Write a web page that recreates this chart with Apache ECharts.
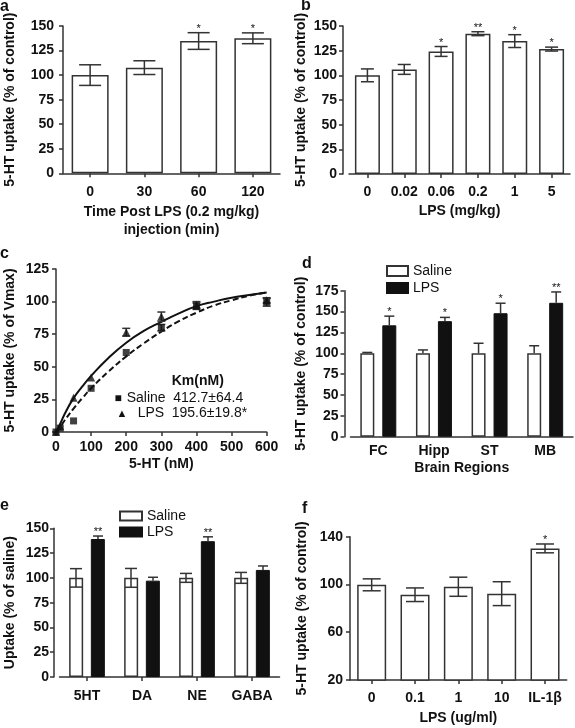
<!DOCTYPE html>
<html><head><meta charset="utf-8">
<script src="https://cdn.jsdelivr.net/npm/echarts@6/dist/echarts.min.js"></script>
<style>html,body{margin:0;padding:0;background:#fff}#c{width:575px;height:728px}</style>
</head><body><div id="c"></div>
<script>
// ---- Panel a ----
const aCats = ['0', '30', '60', '120'];
const aVals = [100, 107.6, 134.7, 137.5];
const aErr = [10.5, 7, 8.5, 5.5];
const aSig = ['', '', '*', '*'];
// ---- Panel b ----
const bCats = ['0', '0.02', '0.06', '0.2', '1', '5'];
const bVals = [100, 106, 124.2, 142.2, 134.7, 126.6];
const bErr = [6.5, 5, 5, 2, 6.5, 2];
const bSig = ['', '', '*', '**', '*', '*'];
// ---- Panel c ----
const cX = [0, 12, 50, 100, 200, 300, 400, 600];
const cSaline = [0, 3, 8.5, 33.5, 61, 80, 96.5, 99.5];
const cSalineErr = [0, 0, 0, 0, 0, 2.5, 2.5, 3];
const cLps = [0, 4.5, 26.3, 41.7, 76.5, 88.5, 97.5, 101];
const cLpsErr = [0, 0, 0, 0, 3, 3.5, 2.5, 2];
const cFitX = [0, 10, 25, 50, 75, 100, 150, 200, 250, 300, 350, 400, 450, 500, 550, 600];
const cFitLps = [0, 5, 14, 26, 35, 43, 57, 68.5, 77.5, 84.5, 91, 96.5, 100, 103, 105, 107];
const cFitSaline = [0, 3, 9, 18, 26, 33.5, 46.5, 58, 68, 77, 85, 91.5, 97, 101, 104.5, 107];
const cKmHeader = 'Km(nM)';
const cKmSaline = '412.7±64.4';
const cKmLps = '195.6±19.8*';
// ---- Panel d ----
const dCats = ['FC', 'Hipp', 'ST', 'MB'];
const dSaline = [100, 100, 100, 100];
const dSalineErr = [1, 4, 12, 9];
const dLps = [133.5, 138.5, 148, 160.5];
const dLpsErr = [11, 4.5, 12, 13];
const dSig = ['*', '*', '*', '**'];
// ---- Panel e ----
const eCats = ['5HT', 'DA', 'NE', 'GABA'];
const eSaline = [100, 100, 100, 100];
const eSalineErr = [9.3, 9.5, 4.5, 5.5];
const eLps = [139.2, 97.2, 137, 108];
const eLpsErr = [3, 3.4, 4.4, 4];
const eSig = ['**', '', '**', ''];
// ---- Panel f ----
const fCats = ['0', '0.1', '1', '10', 'IL-1β'];
const fVals = [99.7, 91.4, 98.1, 92.3, 130.2];
const fErr = [5, 5.7, 8, 10, 3.7];
const fSig = ['', '', '', '', '*'];

const FONT = "'Liberation Sans', Arial, Helvetica, sans-serif";
const INK = '#333';
const TXT = '#111';

function nameStyle() {
  return { color: TXT, fontFamily: FONT, fontWeight: 'bold', fontSize: 14, lineHeight: 18 };
}
function labelStyle(margin) {
  return { color: TXT, fontFamily: FONT, fontWeight: 'bold', fontSize: 14, margin: margin, interval: 0, hideOverlap: false };
}
function lineSt() { return { color: INK, width: 1.5 }; }

function catX(gi, data, o) {
  return {
    type: 'category', gridIndex: gi, data: data,
    axisLine: { lineStyle: lineSt() },
    axisTick: { show: o.tick !== false, alignWithLabel: true, interval: 0, length: 4, lineStyle: lineSt() },
    axisLabel: labelStyle(o.margin),
    name: o.name || '', nameLocation: 'middle', nameGap: o.nameGap || 20,
    nameTextStyle: nameStyle()
  };
}
function valY(gi, min, max, interval, o) {
  return {
    type: 'value', gridIndex: gi, min: min, max: max, interval: interval,
    offset: o.offset || 0,
    splitLine: { show: false },
    axisLine: { show: true, lineStyle: lineSt() },
    axisTick: { show: true, length: 4, lineStyle: lineSt() },
    axisLabel: labelStyle(o.margin),
    name: o.name, nameLocation: 'middle', nameGap: o.nameGap,
    nameTextStyle: nameStyle()
  };
}

function errSeries(xi, vals, errs, sigs, capW, offset, up) {
  return {
    type: 'custom', xAxisIndex: xi, yAxisIndex: xi, z: 5, silent: true,
    data: vals.map((v, i) => [i, v, errs[i]]),
    renderItem: function (params, api) {
      const i = api.value(0), v = api.value(1), e = api.value(2);
      const pTop = api.coord([i, v + e]);
      const pBot = api.coord([i, up ? v : v - e]);
      const x = pTop[0] + offset, yt = pTop[1], yb = pBot[1];
      const st = { stroke: INK, lineWidth: 1.5 };
      const ch = [
        { type: 'line', shape: { x1: x, y1: yt, x2: x, y2: yb }, style: st },
        { type: 'line', shape: { x1: x - capW / 2, y1: yt, x2: x + capW / 2, y2: yt }, style: st }
      ];
      if (!up) ch.push({ type: 'line', shape: { x1: x - capW / 2, y1: yb, x2: x + capW / 2, y2: yb }, style: st });
      const s = sigs ? sigs[params.dataIndex] : '';
      if (s) ch.push({ type: 'text', style: { text: s, x: x, y: yt - 4, align: 'center', textAlign: 'center', verticalAlign: 'middle', textVerticalAlign: 'middle', fontSize: 11, fontFamily: FONT, fill: TXT } });
      return { type: 'group', children: ch };
    }
  };
}
function pointErrSeries(xs, ys, errs, capW) {
  return {
    type: 'custom', xAxisIndex: 2, yAxisIndex: 2, z: 4, silent: true,
    data: xs.map((x, i) => [x, ys[i], errs[i]]),
    renderItem: function (params, api) {
      const x = api.value(0), y = api.value(1), e = api.value(2);
      if (!e) return { type: 'group', children: [] };
      const t = api.coord([x, y + e]), b = api.coord([x, y - e]);
      const st = { stroke: INK, lineWidth: 1.5 };
      return { type: 'group', children: [
        { type: 'line', shape: { x1: t[0], y1: t[1], x2: b[0], y2: b[1] }, style: st },
        { type: 'line', shape: { x1: t[0] - capW / 2, y1: t[1], x2: t[0] + capW / 2, y2: t[1] }, style: st },
        { type: 'line', shape: { x1: b[0] - capW / 2, y1: b[1], x2: b[0] + capW / 2, y2: b[1] }, style: st }
      ] };
    }
  };
}
function whiteBar(xi, data, w, name) {
  return { type: 'bar', name: name, xAxisIndex: xi, yAxisIndex: xi, data: data, barWidth: w, clip: true,
    itemStyle: { color: '#fff', borderColor: INK, borderWidth: 1.5 }, silent: true };
}
function blackBar(xi, data, w, name) {
  return { type: 'bar', name: name, xAxisIndex: xi, yAxisIndex: xi, data: data, barWidth: w, clip: true,
    itemStyle: { color: '#111', borderColor: '#111', borderWidth: 1 }, silent: true };
}
function txt(text, x, y, size, weight, align) {
  return { type: 'text', x: x, y: y, silent: true,
    style: { text: text, fontSize: size, fontWeight: weight || 'normal', fontFamily: FONT, fill: TXT,
      align: align || 'left', textAlign: align || 'left', verticalAlign: 'middle', textVerticalAlign: 'middle' } };
}

const chart = echarts.init(document.getElementById('c'), null, { renderer: 'canvas' });
const option = {
  backgroundColor: '#fff',
  animation: false,
  grid: [
    { left: 60, top: 26, width: 220, height: 147.3, containLabel: false },
    { left: 349, top: 26, width: 221, height: 148, containLabel: false },
    { left: 52.7, top: 269, width: 214, height: 163, containLabel: false },
    { left: 350.5, top: 290.7, width: 222.5, height: 146, containLabel: false },
    { left: 55.5, top: 528.3, width: 224, height: 148.7, containLabel: false },
    { left: 350, top: 536.7, width: 216.7, height: 145, containLabel: false }
  ],
  xAxis: [
    catX(0, aCats, { margin: 12, name: 'Time Post LPS (0.2 mg/kg)\ninjection (min)', nameGap: 30 }),
    catX(1, bCats, { margin: 11, name: 'LPS (mg/kg)', nameGap: 28 }),
    {
      type: 'value', gridIndex: 2, min: 0, max: 600, interval: 100,
      splitLine: { show: false },
      axisLine: { lineStyle: lineSt() },
      axisTick: { show: true, length: 4, lineStyle: lineSt() },
      axisLabel: labelStyle(8),
      name: '5-HT (nM)', nameLocation: 'middle', nameGap: 18, nameTextStyle: nameStyle()
    },
    catX(3, dCats, { margin: 7, tick: false, name: 'Brain Regions', nameGap: 22 }),
    catX(4, eCats, { margin: 12 }),
    catX(5, fCats, { margin: 11, name: 'LPS (ug/ml)', nameGap: 29 })
  ],
  yAxis: [
    valY(0, 0, 150, 25, { margin: 9, name: '5-HT uptake (% of control)', nameGap: 44 }),
    valY(1, 0, 150, 25, { offset: 6, margin: 6, name: '5-HT uptake (% of control)', nameGap: 33 }),
    valY(2, 0, 125, 25, { margin: 7, name: '5-HT uptake (% of Vmax)', nameGap: 37 }),
    valY(3, 0, 175, 25, { offset: 6, margin: 6, name: '5-HT uptake (% of control)', nameGap: 34 }),
    valY(4, 0, 150, 25, { offset: 5.5, margin: 5, name: 'Uptake (% of saline)', nameGap: 35 }),
    valY(5, 20, 140, 40, { margin: 7, name: '5-HT uptake (% of control)', nameGap: 39 })
  ],
  legend: [
    { data: ['Saline', 'LPS'], orient: 'vertical', left: 386, top: 264, itemWidth: 21, itemHeight: 10, itemGap: 3,
      icon: 'rect', selectedMode: false, padding: 0,
      textStyle: { color: TXT, fontFamily: FONT, fontSize: 14 } },
    { data: ['Saline', 'LPS'], orient: 'vertical', left: 119, top: 509, itemWidth: 22, itemHeight: 9, itemGap: 2,
      icon: 'rect', selectedMode: false, padding: 0,
      textStyle: { color: TXT, fontFamily: FONT, fontSize: 14 } }
  ],
  graphic: [
    txt('a', 0, 7, 16, 'bold'),
    txt('b', 301, 6, 16, 'bold'),
    txt('c', 0, 254, 16, 'bold'),
    txt('d', 302, 264, 16, 'bold'),
    txt('e', 0, 506, 16, 'bold'),
    txt('f', 302, 509, 16, 'bold'),
    txt(cKmHeader, 171.7, 381.5, 14, 'bold'),
    txt('■', 114.5, 398.5, 12),
    txt('Saline', 126.7, 398, 14),
    txt(cKmSaline, 173.3, 398, 14),
    txt('▲', 116.5, 413.5, 11),
    txt('LPS', 137.7, 413.5, 14),
    txt(cKmLps, 171.7, 413.5, 14)
  ],
  series: [
    // a
    whiteBar(0, aVals, 37),
    errSeries(0, aVals, aErr, aSig, 22, 0, false),
    // b
    whiteBar(1, bVals, 25),
    errSeries(1, bVals, bErr, bSig, 13, 0, false),
    // c
    { type: 'line', xAxisIndex: 2, yAxisIndex: 2, smooth: true, symbol: 'none', silent: true,
      data: cFitX.map((x, i) => [x, cFitLps[i]]), lineStyle: { color: '#111', width: 2 } },
    { type: 'line', xAxisIndex: 2, yAxisIndex: 2, smooth: true, symbol: 'none', silent: true,
      data: cFitX.map((x, i) => [x, cFitSaline[i]]), lineStyle: { color: '#111', width: 2, type: [6, 3] } },
    pointErrSeries(cX, cLps, cLpsErr, 8),
    pointErrSeries(cX, cSaline, cSalineErr, 8),
    { type: 'scatter', xAxisIndex: 2, yAxisIndex: 2, symbol: 'rect', symbolSize: 7, silent: true, z: 6,
      data: cX.map((x, i) => [x, cSaline[i]]), itemStyle: { color: '#111' } },
    { type: 'scatter', xAxisIndex: 2, yAxisIndex: 2, symbol: 'triangle', symbolSize: 8, silent: true, z: 6,
      data: cX.map((x, i) => [x, cLps[i]]), itemStyle: { color: '#111' } },
    // d
    Object.assign(whiteBar(3, dSaline, 14, 'Saline'), { barGap: '57%' }),
    Object.assign(blackBar(3, dLps, 14, 'LPS'), { barGap: '57%' }),
    errSeries(3, dSaline, dSalineErr, null, 10, -11, true),
    errSeries(3, dLps, dLpsErr, dSig, 10, 11, true),
    // e
    Object.assign(whiteBar(4, eSaline, 14, 'Saline'), { barGap: '55%' }),
    Object.assign(blackBar(4, eLps, 14, 'LPS'), { barGap: '55%' }),
    errSeries(4, eSaline, eSalineErr, null, 12, -11, false),
    errSeries(4, eLps, eLpsErr, eSig, 10, 11, true),
    // f
    whiteBar(5, fVals, 29),
    errSeries(5, fVals, fErr, fSig, 18, 0, false)
  ]
};
chart.setOption(option);
</script>
</body></html>
